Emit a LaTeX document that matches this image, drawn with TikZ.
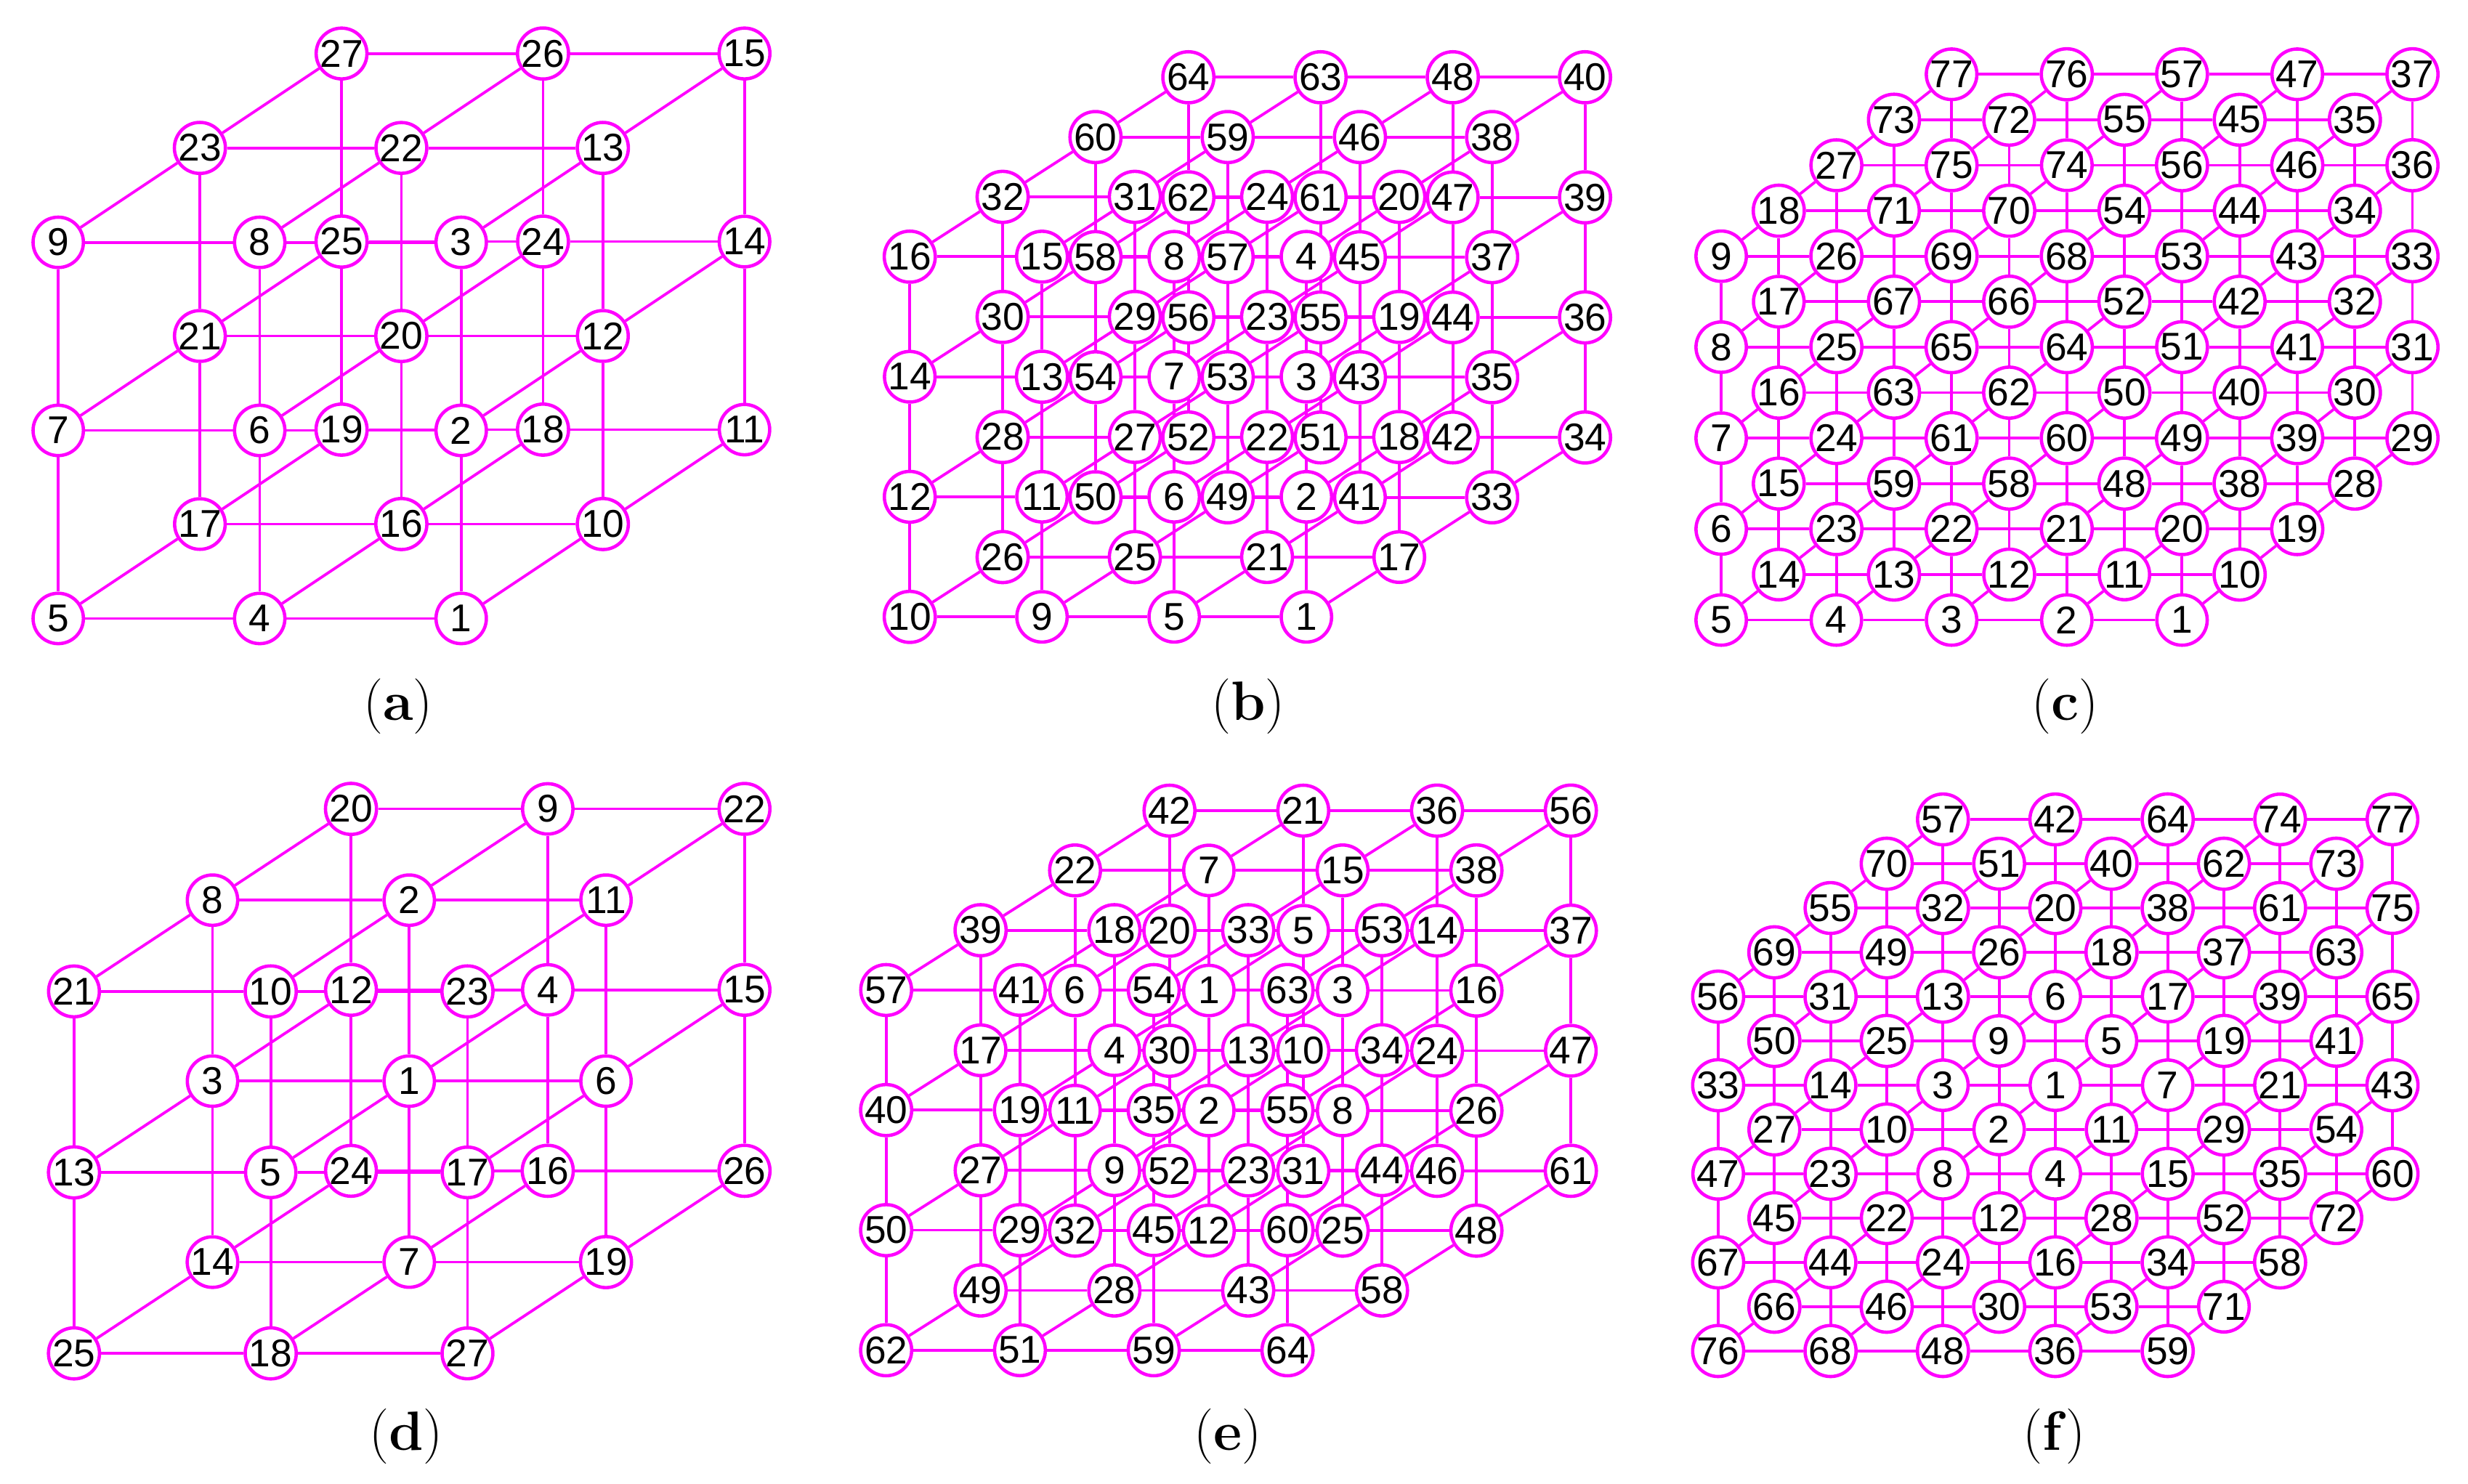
\documentclass[tikz,border=0pt]{standalone}
\usepackage{fontspec}
\newfontfamily\nodefont{Liberation Sans}
\usetikzlibrary{backgrounds}
\definecolor{mag}{RGB}{255,0,255}
\tikzset{
  nd/.style={circle,draw=mag,line width=1.2pt,fill=white,minimum size=0.64cm,inner sep=0pt,font=\nodefont\fontsize{14}{14}\selectfont},
  ed/.style={draw=mag,line width=1pt},
  captxt/.style={font=\fontsize{20}{24}\selectfont}
}
\newcommand\mkcube[9]{%
  \foreach \k/\j/\lst in {#9}{%
    \foreach \l [count=\n from 0] in \lst {%
      \node[nd] (#1-\n-\j-\k) at ({#2+\n*(#4)+\k*(#6)},{#3-\j*(#5)+\k*(#7)}) {\l};
    }}%
  \begin{scope}[on background layer]
  \foreach \i in {0,...,#8}{\foreach \j in {0,...,#8}{\foreach \k in {0,...,#8}{%
    \pgfmathtruncatemacro\ip{\i+1}\pgfmathtruncatemacro\jp{\j+1}\pgfmathtruncatemacro\kp{\k+1}%
    \ifnum\i<#8 \draw[ed] (#1-\i-\j-\k) -- (#1-\ip-\j-\k);\fi
    \ifnum\j<#8 \draw[ed] (#1-\i-\j-\k) -- (#1-\i-\jp-\k);\fi
    \ifnum\k<#8 \draw[ed] (#1-\i-\j-\k) -- (#1-\i-\j-\kp);\fi
  }}}
  \end{scope}}
\newcommand\mkhex[6]{%
  \foreach \b/\s/\lst in {#6}{%
    \foreach \l [count=\n from 0] in \lst {%
      \pgfmathtruncatemacro\aa{\s+2*\n}%
      \node[nd] (#1-\aa-\b) at ({#2+\aa*(#4)},{#3-\b*(#5)}) {\l};
    }}%
  \begin{scope}[on background layer]
  \foreach \a in {0,...,12}{\foreach \b in {0,...,12}{%
    \ifcsname pgf@sh@ns@#1-\a-\b\endcsname
      \pgfmathtruncatemacro\ap{\a+2}\pgfmathtruncatemacro\aq{\a+1}%
      \pgfmathtruncatemacro\bp{\b+2}\pgfmathtruncatemacro\bq{\b+1}%
      \ifcsname pgf@sh@ns@#1-\ap-\b\endcsname \draw[ed] (#1-\a-\b) -- (#1-\ap-\b);\fi
      \ifcsname pgf@sh@ns@#1-\a-\bp\endcsname \draw[ed] (#1-\a-\b) -- (#1-\a-\bp);\fi
      \ifcsname pgf@sh@ns@#1-\aq-\bq\endcsname \draw[ed] (#1-\a-\b) -- (#1-\aq-\bq);\fi
    \fi
  }}
  \end{scope}}
\begin{document}
\begin{tikzpicture}[x=0.02cm,y=-0.02cm]
\useasboundingbox (0,0) rectangle (1568,943);
% (a)
\mkcube{A}{37}{393}{128}{119.5}{90}{-60}{2}{0/0/{5,4,1},0/1/{7,6,2},0/2/{9,8,3},1/0/{17,16,10},1/1/{21,20,12},1/2/{23,22,13},2/0/{19,18,11},2/1/{25,24,14},2/2/{27,26,15}}
% (d)
\mkcube{D}{47}{860}{125}{115}{88}{-58}{2}{0/0/{25,18,27},0/1/{13,5,17},0/2/{21,10,23},1/0/{14,7,19},1/1/{3,1,6},1/2/{8,2,11},2/0/{24,16,26},2/1/{12,4,15},2/2/{20,9,22}}
% (b)
\mkcube{B}{578}{392}{84}{76.3}{59}{-38}{3}{0/0/{10,9,5,1},0/1/{12,11,6,2},0/2/{14,13,7,3},0/3/{16,15,8,4},1/0/{26,25,21,17},1/1/{28,27,22,18},1/2/{30,29,23,19},1/3/{32,31,24,20},2/0/{50,49,41,33},2/1/{54,53,43,35},2/2/{58,57,45,37},2/3/{60,59,46,38},3/0/{52,51,42,34},3/1/{56,55,44,36},3/2/{62,61,47,39},3/3/{64,63,48,40}}
% (e)
\mkcube{E}{563}{858}{85}{76.3}{60}{-38}{3}{0/0/{62,51,59,64},0/1/{50,29,45,60},0/2/{40,19,35,55},0/3/{57,41,54,63},1/0/{49,28,43,58},1/1/{27,9,23,44},1/2/{17,4,13,34},1/3/{39,18,33,53},2/0/{32,12,25,48},2/1/{11,2,8,26},2/2/{6,1,3,16},2/3/{22,7,15,38},3/0/{52,31,46,61},3/1/{30,10,24,47},3/2/{20,5,14,37},3/3/{42,21,36,56}}
% (c)
\mkhex{C}{1093.5}{394}{36.6}{28.9}{12/4/{77,76,57,47,37},11/3/{73,72,55,45,35},10/2/{27,75,74,56,46,36},9/1/{18,71,70,54,44,34},8/0/{9,26,69,68,53,43,33},7/1/{17,67,66,52,42,32},6/0/{8,25,65,64,51,41,31},5/1/{16,63,62,50,40,30},4/0/{7,24,61,60,49,39,29},3/1/{15,59,58,48,38,28},2/0/{6,23,22,21,20,19},1/1/{14,13,12,11,10},0/0/{5,4,3,2,1}}
% (f)
\mkhex{F}{1091.6}{858.5}{35.7}{28.15}{12/4/{57,42,64,74,77},11/3/{70,51,40,62,73},10/2/{55,32,20,38,61,75},9/1/{69,49,26,18,37,63},8/0/{56,31,13,6,17,39,65},7/1/{50,25,9,5,19,41},6/0/{33,14,3,1,7,21,43},5/1/{27,10,2,11,29,54},4/0/{47,23,8,4,15,35,60},3/1/{45,22,12,28,52,72},2/0/{67,44,24,16,34,58},1/1/{66,46,30,53,71},0/0/{76,68,48,36,59}}
% captions
\node[captxt] (capa) at (253,449) {(\textbf{a})};
\node[captxt] (capb) at (793,449) {(\textbf{b})};
\node[captxt] (capc) at (1312,449) {(\textbf{c})};
\node[captxt] (capd) at (258,913) {(\textbf{d})};
\node[captxt] (cape) at (780,913) {(\textbf{e})};
\node[captxt] (capf) at (1305,913) {(\textbf{f})};
\end{tikzpicture}
\end{document}
